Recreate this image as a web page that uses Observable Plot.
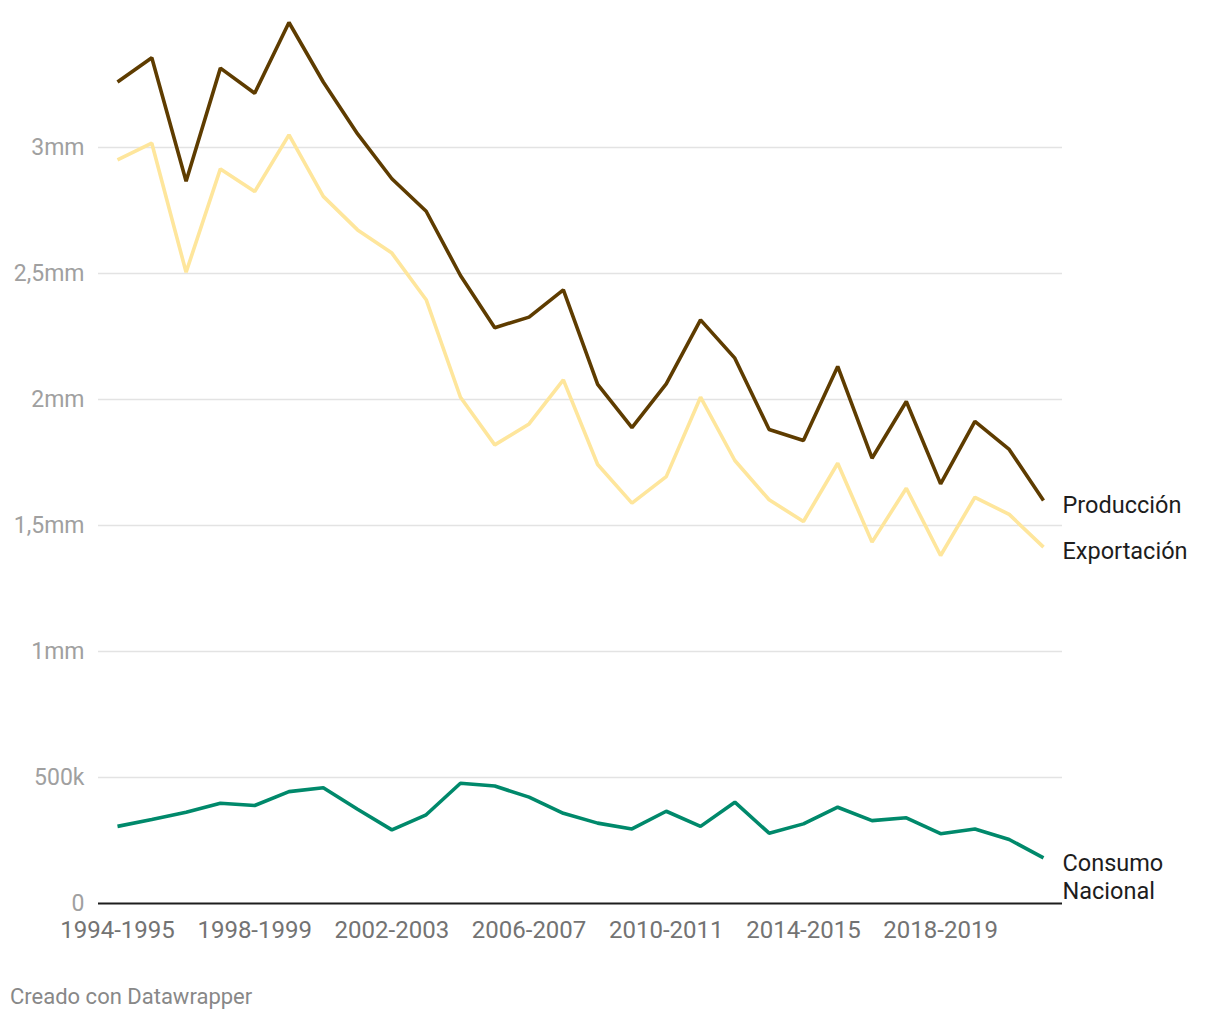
<!DOCTYPE html>
<html>
<head>
<meta charset="utf-8">
<script src="https://cdn.jsdelivr.net/npm/d3@7"></script>
<script src="https://cdn.jsdelivr.net/npm/@observablehq/plot@0.6"></script>
<style>
  html, body { margin: 0; padding: 0; background: #fff; }
  body { font-family: Roboto, "Noto Sans", sans-serif; width: 1220px; height: 1020px; position: relative; }
  #chart { position: absolute; left: 0; top: 0; }
  #caption { position: absolute; left: 10px; top: 984px; font-size: 22px; line-height: 26px; color: #888; }
</style>
</head>
<body>
<div id="chart"></div>
<div id="caption">Creado con Datawrapper</div>
<script>
// Campañas (categorías)
const seasons = [
  "1994-1995","1995-1996","1996-1997","1997-1998","1998-1999","1999-2000","2000-2001",
  "2001-2002","2002-2003","2003-2004","2004-2005","2005-2006","2006-2007","2007-2008",
  "2008-2009","2009-2010","2010-2011","2011-2012","2012-2013","2013-2014","2014-2015",
  "2015-2016","2016-2017","2017-2018","2018-2019","2019-2020","2020-2021","2021-2022"
];
// Valores en millones
const produccion = [
  3.26, 3.356, 2.866, 3.315, 3.215, 3.496, 3.26, 3.054, 2.876, 2.747,
  2.492, 2.285, 2.327, 2.435, 2.06, 1.888, 2.062, 2.316, 2.164, 1.881,
  1.837, 2.131, 1.767, 1.992, 1.665, 1.913, 1.802, 1.599
];
const exportacion = [
  2.951, 3.017, 2.505, 2.915, 2.825, 3.05, 2.806, 2.673, 2.581, 2.396,
  2.009, 1.82, 1.903, 2.078, 1.742, 1.589, 1.694, 2.009, 1.758, 1.602,
  1.516, 1.747, 1.434, 1.648, 1.381, 1.612, 1.544, 1.414
];
const consumo = [
  0.306, 0.333, 0.362, 0.398, 0.389, 0.444, 0.459, 0.374, 0.292, 0.352,
  0.477, 0.466, 0.422, 0.358, 0.319, 0.296, 0.366, 0.306, 0.402, 0.279,
  0.316, 0.382, 0.329, 0.34, 0.277, 0.296, 0.254, 0.181
];
const seriesNames = ["Producción", "Exportación", "Consumo\nNacional"];
const seriesColors = ["#5e3c00", "#fee69c", "#00896b"];
const yTicks = [0, 0.5, 1, 1.5, 2, 2.5, 3];
const yTickLabels = ["0", "500k", "1mm", "1,5mm", "2mm", "2,5mm", "3mm"];
const xTickLabels = ["1994-1995", "1998-1999", "2002-2003", "2006-2007", "2010-2011", "2014-2015", "2018-2019"];

const seriesValues = [produccion, exportacion, consumo];
const rows = seriesValues.map((vals, s) => vals.map((v, i) => ({ i, v, s })));
const last = seriesValues.map((vals, s) => ({ i: vals.length - 1, v: vals[vals.length - 1], s, label: seriesNames[s] }));
const yT = yTicks.map((v, k) => ({ v, label: yTickLabels[k] }));
const xT = xTickLabels.map(l => ({ i: seasons.indexOf(l), label: l }));
const labelDy = [4, 3, 18];
const gridX1 = -0.554, gridX2 = seasons.length - 1 + 0.554;

const chart = Plot.plot({
  width: 1220,
  height: 965,
  marginLeft: 84,
  marginRight: 0,
  marginTop: 21,
  marginBottom: 62,
  style: { fontFamily: "Roboto, 'Noto Sans', sans-serif", background: "#fff" },
  x: { type: "linear", domain: [0, seasons.length - 1], range: [117, 1043], axis: null },
  y: { domain: [0, 3.5], range: [903, 21], axis: null },
  marks: [
    Plot.ruleY(yT.filter(d => d.v > 0), {
      y: "v", x1: gridX1, x2: gridX2, stroke: "#e3e3e3", strokeWidth: 1.6
    }),
    Plot.text(yT, {
      y: "v", text: "label", frameAnchor: "left", textAnchor: "end",
      fill: "#a0a0a0", fontSize: 23
    }),
    Plot.ruleY([0], { x1: gridX1, x2: gridX2, stroke: "#1d1d1d", strokeWidth: 2 }),
    Plot.text(xT, {
      x: "i", y: 0, text: "label", dy: 27, fill: "#737373", fontSize: 24
    }),
    ...rows.map((r, s) => Plot.line(r, {
      x: "i", y: "v", stroke: seriesColors[s], strokeWidth: 3.6, strokeLinejoin: "miter", strokeLinecap: "butt"
    })),
    ...last.map((d, s) => Plot.text([d], {
      x: "i", y: "v", text: "label", textAnchor: "start", dx: 19,
      dy: labelDy[s], lineHeight: 1.18,
      fill: "#1d1d1d", fontSize: 23.5
    }))
  ]
});
document.getElementById("chart").appendChild(chart);
</script>
</body>
</html>
